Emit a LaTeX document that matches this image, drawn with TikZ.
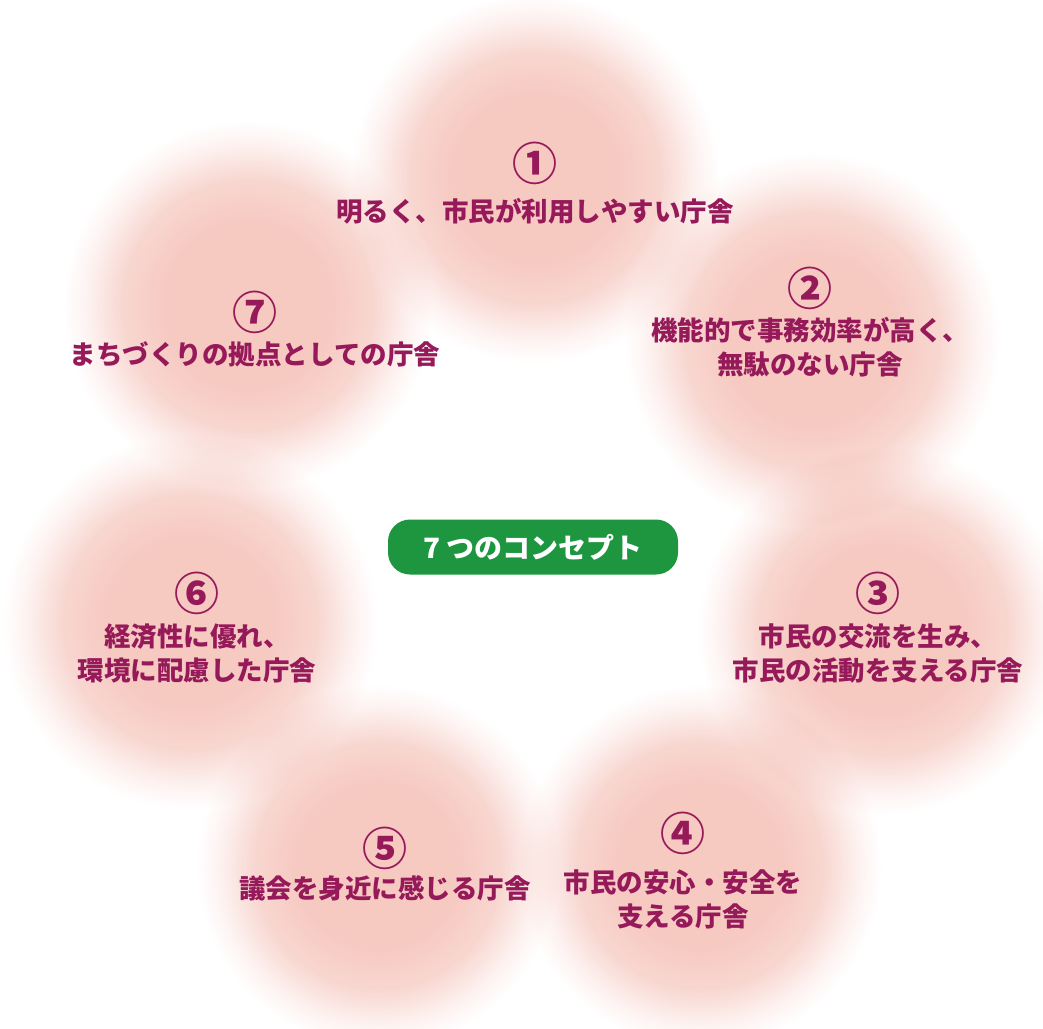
\documentclass[tikz,border=0pt]{standalone}
\usepackage{fontspec}
\usepackage{xcolor}
\usepackage{tikz}
\usetikzlibrary{positioning}
\setmainfont{Noto Sans CJK JP}

\definecolor{blobc}{RGB}{246,201,193}
\definecolor{textc}{RGB}{150,25,90}
\definecolor{greenc}{RGB}{30,150,64}

\pgfdeclareradialshading{blobshade}{\pgfpoint{0bp}{0bp}}{%
  color(0bp)=(blobc); color(11bp)=(blobc); color(17bp)=(blobc!75!white);
  color(22bp)=(blobc!22!white); color(25bp)=(white); color(50bp)=(white)}

\tikzset{
  blob/.style={shading=blobshade},
  num/.style={text=textc, font=\fontsize{45}{46}\selectfont\bfseries, inner sep=0pt},
  txt/.style={text=textc, font=\fontsize{26.5}{34}\selectfont\bfseries, align=center, inner sep=0pt},
  titlebox/.style={fill=greenc, text=white, rounded corners=22pt, minimum width=290pt,
    minimum height=55pt, font=\fontsize{28}{30}\selectfont\bfseries, inner sep=0pt}
}

\begin{document}
\begin{tikzpicture}[x=1pt, y=-1pt]
\useasboundingbox (0,0) rectangle (1043,1028);
\fill[white] (0,0) rectangle (1043,1028);

% soft circles
\begin{scope}[blend mode=multiply]
\shade[blob] (535,178) circle (185);
\shade[blob] (812,340) circle (188);
\shade[blob] (882,630) circle (185);
\shade[blob] (700,866) circle (182);
\shade[blob] (378,866) circle (182);
\shade[blob] (190,622) circle (188);
\shade[blob] (248,305) circle (185);
\end{scope}

% centre
\node[titlebox] (title) at (533,547) {7 つのコンセプト};

% concepts
\node[num] (n1) at (535,163) {①};
\node[txt] (t1) at (535,211) {明るく、市民が利用しやすい庁舎};
\node[num] (n2) at (810,288) {②};
\node[txt] (t2) at (810,347) {機能的で事務効率が高く、\\無駄のない庁舎};
\node[num] (n3) at (878,593) {③};
\node[txt] (t3) at (878,653) {市民の交流を生み、\\市民の活動を支える庁舎};
\node[num] (n4) at (683,833) {④};
\node[txt] (t4) at (683,899) {市民の安心・安全を\\支える庁舎};
\node[num] (n5) at (385,848) {⑤};
\node[txt] (t5) at (385,888) {議会を身近に感じる庁舎};
\node[num] (n6) at (197,593) {⑥};
\node[txt] (t6) at (197,653) {経済性に優れ、\\環境に配慮した庁舎};
\node[num] (n7) at (255,312) {⑦};
\node[txt] (t7) at (255,354) {まちづくりの拠点としての庁舎};
\end{tikzpicture}
\end{document}
